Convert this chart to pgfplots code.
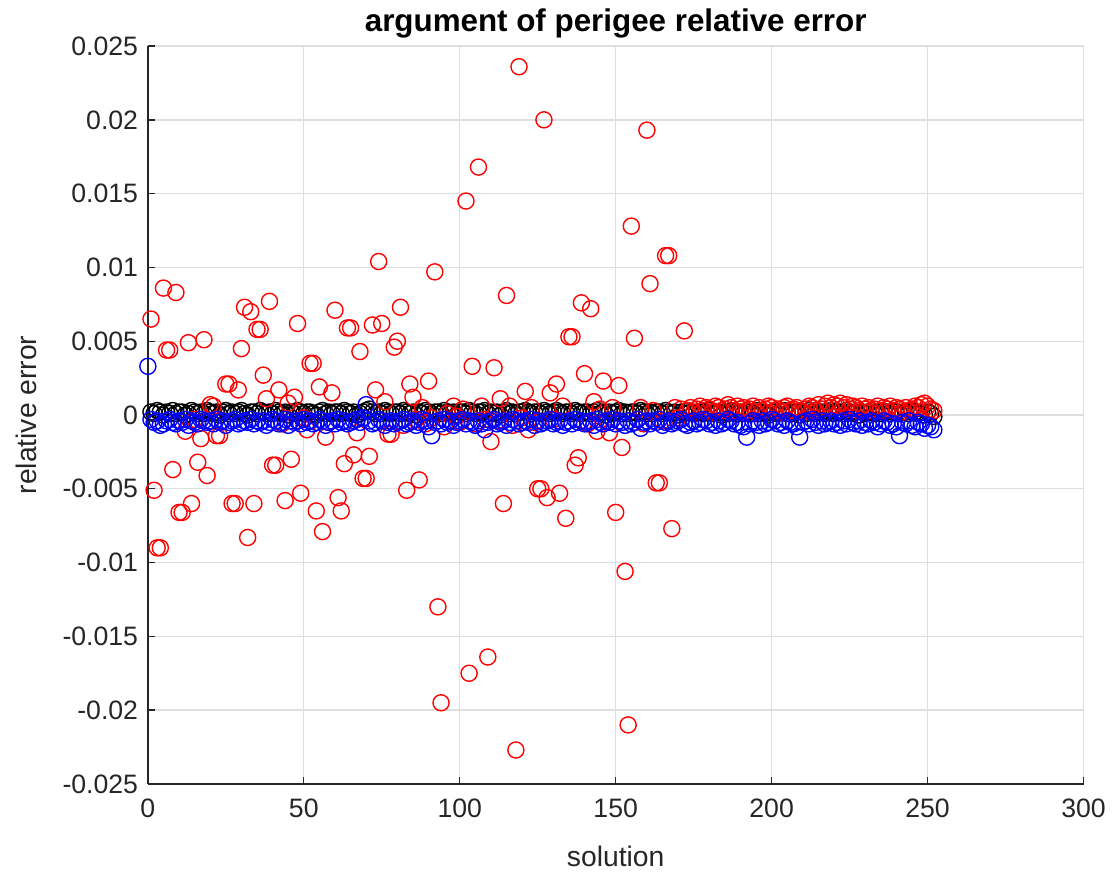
\documentclass[border=0pt]{standalone}
\usepackage{fontspec}
\setmainfont{Liberation Sans}
\usepackage{pgfplots}
\pgfplotsset{compat=1.18}
\definecolor{axgray}{RGB}{38,38,38}
\definecolor{gridgray}{RGB}{222,222,222}
\begin{document}
\begin{tikzpicture}
\begin{axis}[
  scale only axis, width=337.3pt, height=266pt,
  xmin=0, xmax=300, ymin=-0.025, ymax=0.025,
  xtick={0,50,100,150,200,250,300},
  ytick={-0.025,-0.02,-0.015,-0.01,-0.005,0,0.005,0.01,0.015,0.02,0.025},
  yticklabels={-0.025,-0.02,-0.015,-0.01,-0.005,0,0.005,0.01,0.015,0.02,0.025},
  scaled y ticks=false,
  /pgf/number format/assume math mode=true,
  axis lines*=left,
  axis line style={-, color=axgray, line width=0.5pt},
  tick style={color=axgray, line width=0.5pt},
  major tick length=2.5pt,
  tick align=inside,
  grid=major,
  major grid style={color=gridgray, line width=0.5pt},
  ticklabel style={font=\fontsize{9.6}{11}\selectfont, text=axgray},
  xticklabel style={yshift=-1.8pt},
  xlabel={solution}, ylabel={relative error},
  label style={font=\fontsize{10.2}{12}\selectfont, text=axgray},
  ylabel style={yshift=2.5pt},
  xlabel style={yshift=-3.5pt},
  title={argument of perigee relative error},
  title style={font=\fontsize{11.3}{13}\selectfont\bfseries, inner sep=0pt, yshift=-3.5pt},
  clip=false,
  every axis plot/.append style={only marks, mark=o, mark size=2.9pt, mark options={line width=0.5pt}},
]
% black series
\addplot[black] coordinates {
(1,0.0002)(2,0.0001)(3,0.0003)(4,0.0002)(5,0)(6,0.0002)(7,0.0001)(8,0.0003)(9,0.0001)(10,0.0002)
(11,0.0002)(12,0)(13,0.0001)(14,0.0003)(15,0.0002)(16,0.0001)(17,0.0002)(18,0.0001)(19,0.0003)(20,0.0002)
(21,0.0001)(22,0.0002)(23,0)(24,0.0002)(25,0.0003)(26,0.0001)(27,0.0002)(28,0.0001)(29,0.0002)(30,0.0003)
(31,0.0001)(32,0)(33,0.0002)(34,0.0002)(35,0.0001)(36,0.0003)(37,0.0002)(38,0.0001)(39,0.0002)(40,0.0001)
(41,0.0003)(42,0.0002)(43,0.0001)(44,0.0002)(45,0)(46,0.0002)(47,0.0001)(48,0.0003)(49,0.0002)(50,0.0001)
(51,0.0002)(52,0.0002)(53,0.0001)(54,0)(55,0.0002)(56,0.0003)(57,0.0001)(58,0.0002)(59,0.0001)(60,0.0002)
(61,0.0002)(62,0.0001)(63,0.0003)(64,0.0002)(65,0.0001)(66,0.0002)(67,0)(68,0.0001)(69,0.0002)(70,0.0003)
(71,0.0004)(72,0.0002)(73,0.0001)(74,0.0002)(75,0.0001)(76,0.0003)(77,0.0002)(78,0.0001)(79,0.0002)(80,0.0002)
(81,0.0001)(82,0.0003)(83,0.0002)(84,0.0001)(85,0.0002)(86,0)(87,0.0002)(88,0.0001)(89,0.0003)(90,0.0002)
(91,0.0001)(92,0.0002)(93,0.0002)(94,0.0001)(95,0.0003)(96,0.0002)(97,0.0001)(98,0.0002)(99,0)(100,0.0002)
(101,0.0002)(102,0.0001)(103,0.0003)(104,0.0002)(105,0.0001)(106,0.0002)(107,0.0002)(108,0.0003)(109,0.0001)(110,0.0002)
(111,0.0001)(112,0.0002)(113,0)(114,0.0002)(115,0.0003)(116,0.0001)(117,0.0002)(118,0.0001)(119,0.0002)(120,0.0002)
(121,0.0003)(122,0.0002)(123,0.0001)(124,0.0002)(125,0.0002)(126,0.0001)(127,0.0003)(128,0.0002)(129,0.0001)(130,0.0002)
(131,0.0003)(132,0.0002)(133,0.0001)(134,0.0002)(135,0.0002)(136,0.0001)(137,0.0003)(138,0.0002)(139,0.0001)(140,0.0002)
(141,0.0002)(142,0.0001)(143,0.0002)(144,0.0003)(145,0.0001)(146,0.0002)(147,0)(148,0.0002)(149,0.0001)(150,0.0002)
(151,0.0003)(152,0.0001)(153,0.0002)(154,0.0001)(155,0.0002)(156,0.0002)(157,0.0001)(158,0.0003)(159,0.0002)(160,0.0001)
(161,0.0002)(162,0.0001)(163,0.0002)(164,0.0002)(165,0.0001)(166,0.0003)(167,0.0002)(168,0.0001)(169,0.0002)(170,0)
(171,0.0002)(172,0.0001)(173,0.0003)(174,0.0002)(175,0.0001)(176,0.0002)(177,0.0002)(178,0.0001)(179,0.0002)(180,0.0003)
(181,0.0001)(182,0.0002)(183,0.0002)(184,0)(185,0.0002)(186,0.0001)(187,0.0003)(188,0.0002)(189,0.0001)(190,0.0002)
(191,0.0001)(192,0.0002)(193,0.0002)(194,0.0001)(195,0.0003)(196,0.0001)(197,0.0002)(198,0.0001)(199,0)(200,0.0002)
(201,0.0002)(202,0.0001)(203,0.0002)(204,0.0003)(205,0.0001)(206,0.0002)(207,0.0001)(208,0.0002)(209,0)(210,0.0002)
(211,0.0001)(212,0.0003)(213,0.0002)(214,0.0001)(215,0.0002)(216,0.0002)(217,0.0001)(218,0.0002)(219,0.0003)(220,0.0001)
(221,0.0002)(222,0.0002)(223,0.0001)(224,0.0003)(225,0.0002)(226,0.0001)(227,0.0002)(228,0)(229,0.0002)(230,0.0001)
(231,0.0002)(232,0.0003)(233,0.0001)(234,0.0002)(235,0.0001)(236,0.0002)(237,0.0002)(238,0.0001)(239,0.0003)(240,0.0002)
(241,0.0001)(242,0.0002)(243,0.0002)(244,0.0001)(245,0.0003)(246,0.0002)(247,0.0001)(248,0.0002)(249,0)(250,0.0002)
(251,0.0001)(252,-0.0001)
};
% red series
\addplot[red] coordinates {
(1,0.0065)(2,-0.0051)(3,-0.009)(4,-0.009)(5,0.0086)(6,0.0044)(7,0.0044)(8,-0.0037)(9,0.0083)(10,-0.0066)
(11,-0.0066)(12,-0.0011)(13,0.0049)(14,-0.006)(15,-0.0003)(16,-0.0032)(17,-0.0016)(18,0.0051)(19,-0.0041)(20,0.0007)
(21,0.0006)(22,-0.0014)(23,-0.0014)(24,-0.0004)(25,0.0021)(26,0.0021)(27,-0.006)(28,-0.006)(29,0.0017)(30,0.0045)
(31,0.0073)(32,-0.0083)(33,0.007)(34,-0.006)(35,0.0058)(36,0.0058)(37,0.0027)(38,0.0011)(39,0.0077)(40,-0.0034)
(41,-0.0034)(42,0.0017)(43,-0.0006)(44,-0.0058)(45,0.0008)(46,-0.003)(47,0.0012)(48,0.0062)(49,-0.0053)(50,-0.0002)
(51,-0.001)(52,0.0035)(53,0.0035)(54,-0.0065)(55,0.0019)(56,-0.0079)(57,-0.0015)(58,-0.0005)(59,0.0015)(60,0.0071)
(61,-0.0056)(62,-0.0065)(63,-0.0033)(64,0.0059)(65,0.0059)(66,-0.0027)(67,-0.0012)(68,0.0043)(69,-0.0043)(70,-0.0043)
(71,-0.0028)(72,0.0061)(73,0.0017)(74,0.0104)(75,0.0062)(76,0.0009)(77,-0.0013)(78,-0.0013)(79,0.0046)(80,0.005)
(81,0.0073)(82,-0.0007)(83,-0.0051)(84,0.0021)(85,0.0012)(86,-0.0003)(87,-0.0044)(88,0.0005)(89,-0.0006)(90,0.0023)
(91,-0.0002)(92,0.0097)(93,-0.013)(94,-0.0195)(95,-0.0008)(96,0.0001)(97,-0.0004)(98,0.0006)(99,-0.0001)(100,-0.0005)
(101,0.0004)(102,0.0145)(103,-0.0175)(104,0.0033)(105,-0.0006)(106,0.0168)(107,0.0006)(108,-0.0003)(109,-0.0164)(110,-0.0018)
(111,0.0032)(112,-0.0004)(113,0.0011)(114,-0.006)(115,0.0081)(116,0.0006)(117,-0.0007)(118,-0.0227)(119,0.0236)(120,-0.0002)
(121,0.0016)(122,-0.001)(123,0.0005)(124,-0.0005)(125,-0.005)(126,-0.005)(127,0.02)(128,-0.0056)(129,0.0015)(130,-0.0003)
(131,0.0021)(132,-0.0053)(133,0.0006)(134,-0.007)(135,0.0053)(136,0.0053)(137,-0.0034)(138,-0.0029)(139,0.0076)(140,0.0028)
(141,-0.0006)(142,0.0072)(143,0.0009)(144,-0.0011)(145,0.0004)(146,0.0023)(147,-0.0004)(148,-0.0012)(149,0.0005)(150,-0.0066)
(151,0.002)(152,-0.0022)(153,-0.0106)(154,-0.021)(155,0.0128)(156,0.0052)(157,-0.0003)(158,0.0005)(159,-0.0006)(160,0.0193)
(161,0.0089)(162,0.0003)(163,-0.0046)(164,-0.0046)(165,-0.0004)(166,0.0108)(167,0.0108)(168,-0.0077)(169,0.0005)(170,-0.0002)
(171,0.0004)(172,0.0057)
(173,0.0003)(174,0.0005)(175,0.0002)(176,0.0004)(177,0.0006)(178,0.0003)(179,0.0005)(180,0.0004)(181,0.0002)(182,0.0006)
(183,0.0005)(184,0.0003)(185,0.0004)(186,0.0007)(187,0.0005)(188,0.0003)(189,0.0006)(190,0.0004)(191,0.0005)(192,0.0003)
(193,0.0004)(194,0.0006)(195,0.0002)(196,0.0005)(197,0.0003)(198,0.0004)(199,0.0006)(200,0.0005)(201,0.0003)(202,0.0004)
(203,0.0002)(204,0.0005)(205,0.0006)(206,0.0003)(207,0.0004)(208,0.0005)(209,0.0003)(210,0.0002)(211,0.0004)(212,0.0006)
(213,0.0005)(214,0.0003)(215,0.0007)(216,0.0004)(217,0.0006)(218,0.0008)(219,0.0005)(220,0.0007)(221,0.0006)(222,0.0008)
(223,0.0005)(224,0.0007)(225,0.0004)(226,0.0006)(227,0.0005)(228,0.0003)(229,0.0006)(230,0.0004)(231,0.0005)(232,0.0003)
(233,0.0004)(234,0.0006)(235,0.0003)(236,0.0005)(237,0.0004)(238,0.0006)(239,0.0003)(240,0.0005)(241,0.0004)(242,0.0002)
(243,0.0005)(244,0.0003)(245,0.0004)(246,0.0006)(247,0.0005)(248,0.0007)(249,0.0008)(250,0.0006)(251,0.0004)(252,0.0003)
};
% blue series
\addplot[blue] coordinates {
(0,0.0033)
(1,-0.0003)(2,-0.0005)(3,-0.0004)(4,-0.0007)(5,-0.0006)(6,-0.0004)(7,-0.0003)(8,-0.0005)(9,-0.0006)(10,-0.0004)
(11,-0.0005)(12,-0.0003)(13,-0.0007)(14,-0.0004)(15,-0.0005)(16,-0.0006)(17,-0.0003)(18,-0.0004)(19,-0.0005)(20,-0.0004)
(21,-0.0006)(22,-0.0003)(23,-0.0005)(24,-0.0004)(25,-0.0007)(26,-0.0005)(27,-0.0004)(28,-0.0003)(29,-0.0006)(30,-0.0005)
(31,-0.0004)(32,-0.0005)(33,-0.0003)(34,-0.0006)(35,-0.0004)(36,-0.0005)(37,-0.0004)(38,-0.0007)(39,-0.0005)(40,-0.0003)
(41,-0.0004)(42,-0.0006)(43,-0.0005)(44,-0.0003)(45,-0.0007)(46,-0.0004)(47,-0.0005)(48,-0.0004)(49,-0.0006)(50,-0.0003)
(51,-0.0005)(52,-0.0004)(53,-0.0006)(54,-0.0005)(55,-0.0003)(56,-0.0004)(57,-0.0007)(58,-0.0005)(59,-0.0004)(60,-0.0006)
(61,-0.0003)(62,-0.0005)(63,-0.0004)(64,-0.0006)(65,-0.0005)(66,-0.0004)(67,-0.0003)(68,-0.0005)(69,-0.0002)(70,0.0007)
(71,-0.0004)(72,-0.0006)(73,-0.0005)(74,-0.0003)(75,-0.0004)(76,-0.0007)(77,-0.0005)(78,-0.0004)(79,-0.0006)(80,-0.0005)
(81,-0.0004)(82,-0.0003)(83,-0.0006)(84,-0.0005)(85,-0.0004)(86,-0.0007)(87,-0.0005)(88,-0.0003)(89,-0.0004)(90,-0.0008)
(91,-0.0014)(92,-0.0005)(93,-0.0004)(94,-0.0006)(95,-0.0003)(96,-0.0005)(97,-0.0004)(98,-0.0007)(99,-0.0005)(100,-0.0004)
(101,-0.0003)(102,-0.0006)(103,-0.0004)(104,-0.0005)(105,-0.0007)(106,-0.0004)(107,-0.0006)(108,-0.001)(109,-0.0005)(110,-0.0004)
(111,-0.0003)(112,-0.0006)(113,-0.0005)(114,-0.0004)(115,-0.0007)(116,-0.0005)(117,-0.0003)(118,-0.0004)(119,-0.0006)(120,-0.0005)
(121,-0.0004)(122,-0.0005)(123,-0.0003)(124,-0.0007)(125,-0.0004)(126,-0.0006)(127,-0.0005)(128,-0.0004)(129,-0.0003)(130,-0.0006)
(131,-0.0005)(132,-0.0004)(133,-0.0007)(134,-0.0005)(135,-0.0004)(136,-0.0006)(137,-0.0003)(138,-0.0005)(139,-0.0004)(140,-0.0006)
(141,-0.0005)(142,-0.0004)(143,-0.0007)(144,-0.0003)(145,-0.0005)(146,-0.0006)(147,-0.0004)(148,-0.0005)(149,-0.0003)(150,-0.0006)
(151,-0.0004)(152,-0.0005)(153,-0.0007)(154,-0.0004)(155,-0.0006)(156,-0.0005)(157,-0.0003)(158,-0.0009)(159,-0.0005)(160,-0.0004)
(161,-0.0006)(162,-0.0004)(163,-0.0005)(164,-0.0003)(165,-0.0007)(166,-0.0005)(167,-0.0004)(168,-0.0006)(169,-0.0005)(170,-0.0004)
(171,-0.0003)(172,-0.0006)(173,-0.0007)(174,-0.0005)(175,-0.0004)(176,-0.0006)(177,-0.0005)(178,-0.0003)(179,-0.0004)(180,-0.0006)
(181,-0.0005)(182,-0.0007)(183,-0.0004)(184,-0.0006)(185,-0.0005)(186,-0.0003)(187,-0.0004)(188,-0.0006)(189,-0.0005)(190,-0.0007)
(191,-0.0008)(192,-0.0015)(193,-0.0006)(194,-0.0004)(195,-0.0005)(196,-0.0007)(197,-0.0004)(198,-0.0006)(199,-0.0005)(200,-0.0003)
(201,-0.0004)(202,-0.0006)(203,-0.0005)(204,-0.0007)(205,-0.0004)(206,-0.0005)(207,-0.0006)(208,-0.0008)(209,-0.0015)(210,-0.0005)
(211,-0.0004)(212,-0.0006)(213,-0.0003)(214,-0.0005)(215,-0.0007)(216,-0.0004)(217,-0.0006)(218,-0.0005)(219,-0.0004)(220,-0.0006)
(221,-0.0005)(222,-0.0007)(223,-0.0004)(224,-0.0006)(225,-0.0003)(226,-0.0005)(227,-0.0006)(228,-0.0004)(229,-0.0007)(230,-0.0005)
(231,-0.0006)(232,-0.0004)(233,-0.0005)(234,-0.0008)(235,-0.0006)(236,-0.0004)(237,-0.0005)(238,-0.0007)(239,-0.0006)(240,-0.0008)
(241,-0.0014)(242,-0.0005)(243,-0.0006)(244,-0.0004)(245,-0.0007)(246,-0.0008)(247,-0.0005)(248,-0.0006)(249,-0.0009)(250,-0.0007)
(251,-0.0008)(252,-0.001)
};
\end{axis}
\path (current axis.south west) ++(-53.3pt,-31.7pt);
\path (current axis.north east) ++(10.8pt,16.6pt);
\end{tikzpicture}
\end{document}
